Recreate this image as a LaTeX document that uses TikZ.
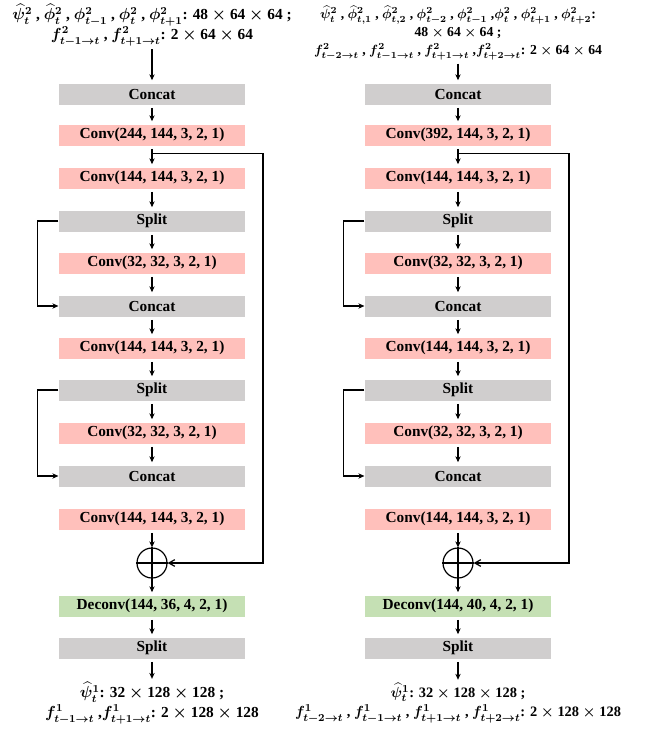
\documentclass[tikz,border=0pt]{standalone}
\usepackage{amsmath}
\usepackage{bm}
\usepackage{fontspec}
\setmainfont{Liberation Serif}
\usetikzlibrary{arrows.meta}
\usetikzlibrary{calc}

\definecolor{boxgray}{RGB}{208,206,206}
\definecolor{boxpink}{RGB}{255,192,187}
\definecolor{boxgreen}{RGB}{197,224,180}

\tikzset{
  layer/.style={minimum width=139.5pt, minimum height=15.75pt, inner sep=0pt,
    font=\fontsize{11.5}{13}\selectfont\bfseries},
  graybox/.style={layer, fill=boxgray},
  pinkbox/.style={layer, fill=boxpink},
  greenbox/.style={layer, fill=boxgreen},
  dimtext/.style={align=center, inner sep=0pt,
    font=\fontsize{11.5}{14.5}\selectfont\bfseries\boldmath},
  smalldim/.style={dimtext, font=\fontsize{10.3}{13.5}\selectfont\bfseries\boldmath},
  gap/.style={shorten <=2pt, shorten >=2pt},
}

\begin{document}
\begin{tikzpicture}[x=0.75pt, y=-0.75pt, line width=0.9pt,
    >={Stealth[length=4.5pt, width=4pt]}]
\useasboundingbox (0,0) rectangle (646,732);

% one residual block per column
\foreach \col/\x/\cin/\cout in {l/152/244/36, r/458/392/40}{
  \node[graybox] (\col-cat1) at (\x,94) {Concat};
  \node[pinkbox] (\col-conv1) at (\x,135) {Conv(\cin, 144, 3, 2, 1)};
  \node[pinkbox] (\col-conv2) at (\x,178) {Conv(144, 144, 3, 2, 1)};
  \node[graybox] (\col-split1) at (\x,221) {Split};
  \node[pinkbox] (\col-conv3) at (\x,263) {Conv(32, 32, 3, 2, 1)};
  \node[graybox] (\col-cat2) at (\x,306) {Concat};
  \node[pinkbox] (\col-conv4) at (\x,348) {Conv(144, 144, 3, 2, 1)};
  \node[graybox] (\col-split2) at (\x,390) {Split};
  \node[pinkbox] (\col-conv5) at (\x,433) {Conv(32, 32, 3, 2, 1)};
  \node[graybox] (\col-cat3) at (\x,476) {Concat};
  \node[pinkbox] (\col-conv6) at (\x,519) {Conv(144, 144, 3, 2, 1)};
  \node[circle, draw, minimum size=22.5pt, inner sep=0pt] (\col-add) at (\x,563) {};
  \node[greenbox] (\col-deconv) at (\x,606) {Deconv(144, \cout, 4, 2, 1)};
  \node[graybox] (\col-split3) at (\x,648) {Split};
  \draw (\col-add.north) -- (\col-add.south);
  \draw (\col-add.west) -- (\col-add.east);
  \foreach \a/\b in {cat1/conv1, conv1/conv2, conv2/split1, split1/conv3,
      conv3/cat2, cat2/conv4, conv4/split2, split2/conv5, conv5/cat3,
      deconv/split3}
    \draw[->, gap] (\col-\a) -- (\col-\b);
  \draw[->, shorten <=2pt] (\col-conv6) -- (\col-add);
  \draw[->, shorten >=2pt] (\col-add) -- (\col-deconv);
  % skip connections
  \draw[->] (\col-split1.west) -- ++(-21,0) |- (\col-cat2.west);
  \draw[->] (\col-split2.west) -- ++(-21,0) |- (\col-cat3.west);
  \coordinate (\col-tap) at ($(\col-conv1.south)+(0,7)$);
  \draw[-{Straight Barb[length=4.5pt, width=5pt]}] (\col-tap) -- ++(111,0) |- (\col-add.east);
}

\node[dimtext] (l-in) at (152,25) {$\widehat{\psi}_t^2$ , $\widehat{\phi}_t^2$ ,
  $\phi_{t-1}^2$ , $\phi_t^2$ , $\phi_{t+1}^2$: 48 $\times$ 64 $\times$ 64 ;\\
  $f_{t-1\to t}^2$ , $f_{t+1\to t}^2$: 2 $\times$ 64 $\times$ 64};
\node[smalldim] (r-in) at (458,33) {$\widehat{\psi}_t^2$ , $\widehat{\phi}_{t,1}^2$ ,
  $\widehat{\phi}_{t,2}^2$ , $\phi_{t-2}^2$ , $\phi_{t-1}^2$ ,$\phi_t^2$ ,
  $\phi_{t+1}^2$ , $\phi_{t+2}^2$:\\ 48 $\times$ 64 $\times$ 64 ;\\
  $f_{t-2\to t}^2$ , $f_{t-1\to t}^2$ , $f_{t+1\to t}^2$ ,$f_{t+2\to t}^2$: 2 $\times$ 64 $\times$ 64};
\node[dimtext] (l-out) at (152,703) {$\widehat{\psi}_t^1$: 32 $\times$ 128 $\times$ 128 ;\\
  $f_{t-1\to t}^1$ ,$f_{t+1\to t}^1$: 2 $\times$ 128 $\times$ 128};
\node[smalldim, font=\fontsize{10.8}{14.5}\selectfont\bfseries\boldmath] (r-out) at (458,703)
  {$\widehat{\psi}_t^1$: 32 $\times$ 128 $\times$ 128 ;\\
  $f_{t-2\to t}^1$ , $f_{t-1\to t}^1$ , $f_{t+1\to t}^1$ , $f_{t+2\to t}^1$: 2 $\times$ 128 $\times$ 128};

\draw[->, gap] (l-in) -- (l-cat1);
\draw[->, gap] (r-in) -- (r-cat1);
\draw[->, gap] (l-split3) -- (l-out);
\draw[->, gap] (r-split3) -- (r-out);
\end{tikzpicture}
\end{document}
